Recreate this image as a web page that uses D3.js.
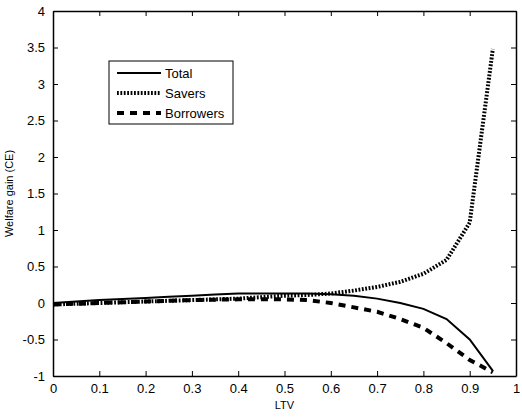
<!DOCTYPE html>
<html>
<head>
<meta charset="utf-8">
<script src="https://cdn.jsdelivr.net/npm/d3@7"></script>
<style>
  body { margin: 0; background: #fff; }
  text { font-family: "Liberation Sans", Arial, sans-serif; fill: #000; }
</style>
</head>
<body>
<svg width="522" height="418"></svg>
<script>
// LTV grid
var ltv = [0, 0.05, 0.1, 0.15, 0.2, 0.25, 0.3, 0.35, 0.4, 0.45, 0.5, 0.55, 0.6, 0.65, 0.7, 0.75, 0.8, 0.85, 0.9, 0.95];
var total = [0, 0.02, 0.04, 0.055, 0.07, 0.085, 0.1, 0.115, 0.13, 0.13, 0.13, 0.13, 0.12, 0.1, 0.06, 0.0, -0.08, -0.22, -0.5, -0.93];
var savers = [-0.02, -0.01, 0, 0.01, 0.02, 0.03, 0.04, 0.05, 0.06, 0.08, 0.1, 0.11, 0.13, 0.17, 0.22, 0.29, 0.4, 0.59, 1.1, 3.48];
var borrowers = [-0.02, -0.01, 0, 0.01, 0.02, 0.03, 0.04, 0.045, 0.05, 0.05, 0.05, 0.04, 0.0, -0.06, -0.12, -0.22, -0.34, -0.55, -0.78, -0.95];

var xTicks = [0, 0.1, 0.2, 0.3, 0.4, 0.5, 0.6, 0.7, 0.8, 0.9, 1];
var yTicks = [-1, -0.5, 0, 0.5, 1, 1.5, 2, 2.5, 3, 3.5, 4];

var series = [
  {name: "Total", values: total, width: 2, dash: null},
  {name: "Savers", values: savers, width: 4, dash: "1.8,1.6"},
  {name: "Borrowers", values: borrowers, width: 4, dash: "7,6"}
];

var svg = d3.select("svg");
var mLeft = 53, mRight = 516, mTop = 11, mBottom = 376;

var x = d3.scaleLinear().domain([0, 1]).range([mLeft, mRight]);
var y = d3.scaleLinear().domain([-1, 4]).range([mBottom, mTop]);

var fmt = function(d) { return String(d); };

// axes, ticks pointing inward on all four sides
svg.append("g")
  .attr("transform", "translate(0," + mBottom + ")")
  .call(d3.axisBottom(x).tickValues(xTicks).tickFormat(fmt).tickSizeInner(-5).tickSizeOuter(0).tickPadding(8));
svg.append("g")
  .attr("transform", "translate(0," + mTop + ")")
  .call(d3.axisTop(x).tickValues(xTicks).tickFormat("").tickSizeInner(-5).tickSizeOuter(0));
svg.append("g")
  .attr("transform", "translate(" + mLeft + ",0)")
  .call(d3.axisLeft(y).tickValues(yTicks).tickFormat(fmt).tickSizeInner(-5).tickSizeOuter(0).tickPadding(8));
svg.append("g")
  .attr("transform", "translate(" + mRight + ",0)")
  .call(d3.axisRight(y).tickValues(yTicks).tickFormat("").tickSizeInner(-5).tickSizeOuter(0));

svg.selectAll(".domain").attr("stroke", "#000").attr("stroke-width", 1.5);
svg.selectAll(".tick line").attr("stroke", "#000").attr("stroke-width", 1);
svg.selectAll(".tick text").attr("font-size", 13).attr("font-family", "Liberation Sans, Arial, sans-serif");

// axis labels
svg.append("text")
  .attr("x", (mLeft + mRight) / 2)
  .attr("y", 409)
  .attr("text-anchor", "middle")
  .attr("font-size", 11)
  .text("LTV");
svg.append("text")
  .attr("transform", "translate(13," + ((mTop + mBottom) / 2) + ") rotate(-90)")
  .attr("text-anchor", "middle")
  .attr("font-size", 11)
  .text("Welfare gain (CE)");

// lines
var line = d3.line()
  .x(function(d, i) { return x(ltv[i]); })
  .y(function(d) { return y(d); });

svg.append("g").selectAll("path")
  .data(series)
  .enter().append("path")
  .attr("d", function(s) { return line(s.values); })
  .attr("fill", "none")
  .attr("stroke", "#000")
  .attr("stroke-width", function(s) { return s.width; })
  .attr("stroke-dasharray", function(s) { return s.dash; });

// legend
var lg = svg.append("g").attr("transform", "translate(109,61)");
lg.append("rect")
  .attr("width", 124).attr("height", 63)
  .attr("fill", "#fff").attr("stroke", "#000").attr("stroke-width", 1);
var item = lg.selectAll(".item")
  .data(series)
  .enter().append("g")
  .attr("transform", function(d, i) { return "translate(0," + (12 + i * 20) + ")"; });
item.append("line")
  .attr("x1", 8).attr("x2", 52)
  .attr("stroke", "#000")
  .attr("stroke-width", function(s) { return s.width; })
  .attr("stroke-dasharray", function(s) { return s.dash; });
item.append("text")
  .attr("x", 56).attr("y", 5)
  .attr("font-size", 13)
  .text(function(s) { return s.name; });
</script>
</body>
</html>
